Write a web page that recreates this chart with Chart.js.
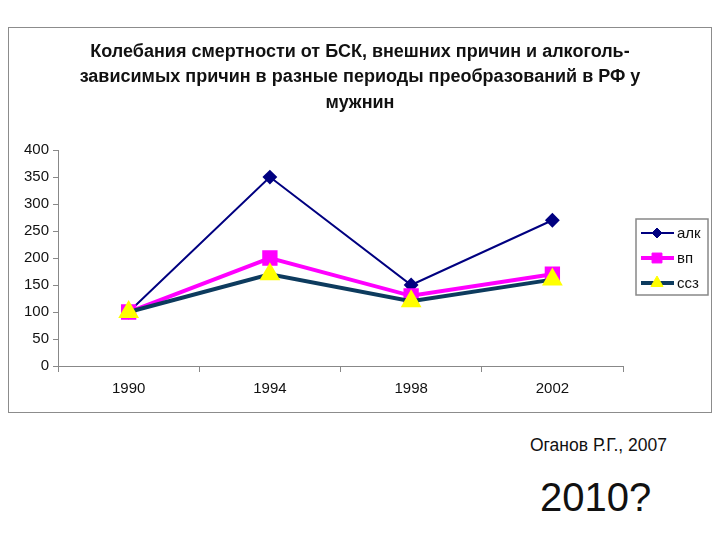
<!DOCTYPE html>
<html>
<head>
<meta charset="utf-8">
<script src="https://cdn.jsdelivr.net/npm/chart.js@4"></script>
<style>
  body { margin: 0; width: 720px; height: 540px; background: #fff; font-family: "Liberation Sans", Arial, sans-serif; position: relative; }
  #box { position: absolute; left: 8px; top: 27px; width: 702px; height: 384px; border: 1px solid #8c8c8c; }
  #src { position: absolute; left: 530px; top: 435px; font-size: 17.5px; color: #111; }
  #q { position: absolute; left: 540px; top: 475px; font-size: 40px; color: #111; }
</style>
</head>
<body>
<div id="box"><canvas id="chart1" width="702" height="384"></canvas></div>
<div id="src">Оганов Р.Г., 2007</div>
<div id="q">2010?</div>
<script>
var years = ['1990', '1994', '1998', '2002'];
var alk = [100, 350, 150, 270];
var vp = [100, 200, 130, 170];
var ssz = [100, 170, 120, 160];
var seriesNames = ['алк', 'вп', 'ссз'];

// legend drawn by hand: line with marker inside a grey frame
var boxLegend = {
    id: 'boxLegend',
    afterLayout: function(chart) {
        // center the title over the whole box, not just the padded area
        if (chart.titleBlock) {
            chart.titleBlock.left = 0;
            chart.titleBlock.right = chart.width;
            chart.titleBlock.width = chart.width;
        }
    },
    afterDraw: function(chart) {
        var c = chart.ctx;
        var x0 = 627, y0 = 191;
        c.save();
        c.strokeStyle = '#888';
        c.lineWidth = 1.5;
        c.strokeRect(x0, y0, 72, 76);
        var sets = [chart.data.datasets[2], chart.data.datasets[1], chart.data.datasets[0]];
        sets.forEach(function(ds, i) {
            var y = y0 + 14 + i * 25;
            c.strokeStyle = ds.borderColor;
            c.lineWidth = ds.borderWidth;
            c.beginPath();
            c.moveTo(x0 + 5, y);
            c.lineTo(x0 + 38, y);
            c.stroke();
            c.fillStyle = ds.pointBackgroundColor;
            c.strokeStyle = ds.pointBorderColor;
            c.lineWidth = 1;
            Chart.helpers.drawPoint(c, {
                pointStyle: ds.pointStyle, radius: ds.pointRadius - 1, borderWidth: 1
            }, x0 + 21, y);
            c.fillStyle = '#111';
            c.font = '15px "Liberation Sans", Arial';
            c.textBaseline = 'middle';
            c.fillText(ds.label, x0 + 41, y + 1);
        });
        c.restore();
    }
};

var ctx1 = document.getElementById('chart1').getContext('2d');
new Chart(ctx1, {
    type: 'line',
    plugins: [boxLegend],
    data: {
        labels: years,
        datasets: [{
            label: seriesNames[2],
            data: ssz,
            borderColor: '#0d3b5e',
            borderWidth: 4,
            pointStyle: 'triangle',
            pointRadius: 8,
            pointBackgroundColor: '#ffff00',
            pointBorderColor: '#ffff00',
            order: 0
        }, {
            label: seriesNames[1],
            data: vp,
            borderColor: '#ff00ff',
            borderWidth: 4,
            pointStyle: 'rect',
            pointRadius: 8,
            pointBackgroundColor: '#ff00ff',
            pointBorderColor: '#ff00ff',
            order: 1
        }, {
            label: seriesNames[0],
            data: alk,
            borderColor: '#000080',
            borderWidth: 2,
            pointStyle: 'rectRot',
            pointRadius: 6,
            pointBackgroundColor: '#000080',
            pointBorderColor: '#000080',
            order: 2
        }]
    },
    options: {
        responsive: false,
        animation: false,
        layout: { padding: { left: 11, right: 88, top: 0, bottom: 6 } },
        plugins: {
            legend: { display: false },
            tooltip: { enabled: false },
            title: {
                display: true,
                text: ['Колебания смертности от БСК, внешних причин и алкоголь-',
                       'зависимых причин в разные периоды преобразований в РФ у',
                       'мужнин'],
                font: { family: '"Liberation Sans", Arial', size: 18, weight: 'bold', lineHeight: 1.39 },
                color: '#111',
                padding: { top: 12, bottom: 35 }
            }
        },
        scales: {
            x: {
                offset: true,
                grid: { offset: true, drawOnChartArea: false, drawTicks: true, tickLength: 6, color: '#888' },
                border: { color: '#888', width: 1 },
                ticks: { color: '#111', font: { family: '"Liberation Sans", Arial', size: 15 }, padding: 8 }
            },
            y: {
                min: 0,
                max: 400,
                grid: { drawOnChartArea: false, drawTicks: true, tickLength: 5, color: '#888' },
                border: { color: '#888', width: 1 },
                ticks: { stepSize: 50, color: '#111', font: { family: '"Liberation Sans", Arial', size: 15 }, padding: 4 }
            }
        }
    }
});
</script>
</body>
</html>
